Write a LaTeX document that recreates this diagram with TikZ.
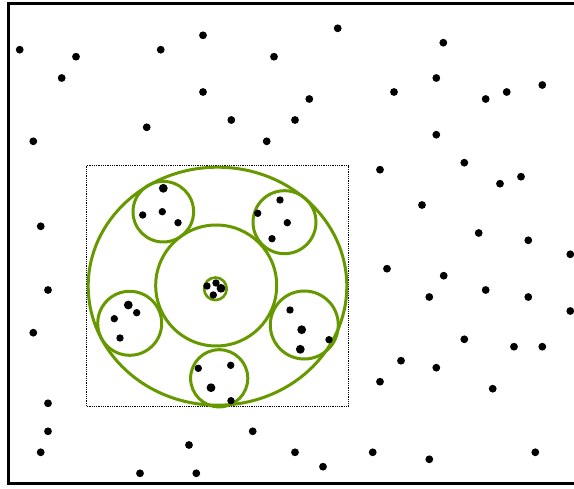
\documentclass[tikz,border=0pt]{standalone}
\usetikzlibrary{positioning}
\definecolor{leafgreen}{RGB}{102,153,0}
\begin{document}
\begin{tikzpicture}[x=1pt,y=-1pt,
 pt/.style={fill=black},bigpt/.style={fill=black},
 ring/.style={draw=leafgreen,line width=3pt},thinring/.style={draw=leafgreen,line width=2.6pt}]
\useasboundingbox (0,0) rectangle (574,489);
% frame, open on the right
\draw[line width=2.8pt] (580,3.5) -- (8.3,3.5) -- (8.3,483.3) -- (580,483.3);
\draw[densely dotted,line width=0.8pt] (86.7,165.7) rectangle (348.3,406.7);
% clusters
\draw[ring] (217.5,286.2) ellipse [x radius=129.3,y radius=119];
\draw[ring] (216.2,285.5) circle [radius=60.5];
\draw[thinring] (215.4,288.8) circle [radius=11.3];
\draw[ring] (163.3,211.7) circle [radius=30.3];
\draw[ring] (284.5,222.2) circle [radius=31.5];
\draw[ring] (129.7,323.3) circle [radius=32];
\draw[ring] (304.3,325) circle [radius=34];
\draw[ring] (219.2,378.3) circle [radius=28.6];
% points inside
\foreach \px/\py in {142.7/215,162.3/211.7,178/222.7,280/200,257.7/213.3,287.3/222.7,
 272/238.7,207/286,216/283,213.3/295,136.7/312.7,114.3/318.7,120/338,290/310,329/339.7,
 198.3/368.3,230.7/365.3,231/400.7}
 \fill[pt] (\px,\py) circle [radius=3.7];
\foreach \px/\py in {163.3/188.3,221/288.3,128.3/305,301.7/329.7,300.3/349.3,211/387.7}
 \fill[bigpt] (\px,\py) circle [radius=4.4];
% points outside
\foreach \px/\py in {19.7/49.7,76/56.7,61.7/78,160.7/49.7,146.7/127.3,33.3/141.3,
 203/35.3,337.7/28.3,274/56.7,203/92,309.3/99,231.3/120,295/120,266.7/141.3,
 443.3/42.7,436.3/78,394/92,485.7/99,506.7/92,542.3/85,436.3/134.7,
 380/169.7,464.3/162.7,500/183.7,521/176.7,422/205,478.7/233,528.3/240.3,570.3/254.3,
 387/268.7,443.7/275.7,429.3/297,485.7/290,528.3/297,570.3/311,464.3/339.3,514/346.7,
 542.3/346.7,401/360.7,436.3/367.7,380/381.7,492.7/388.7,
 40.7/226.3,48/290,33.3/332.7,48/403.3,48/431.3,40.7/452.3,189/445,252.7/431.3,
 140/473.3,196.3/473.3,295/452.3,323/466.7,372.7/452.3,429.3/459.3,535.3/452.3}
 \fill[pt] (\px,\py) circle [radius=3.9];
\end{tikzpicture}
\end{document}
